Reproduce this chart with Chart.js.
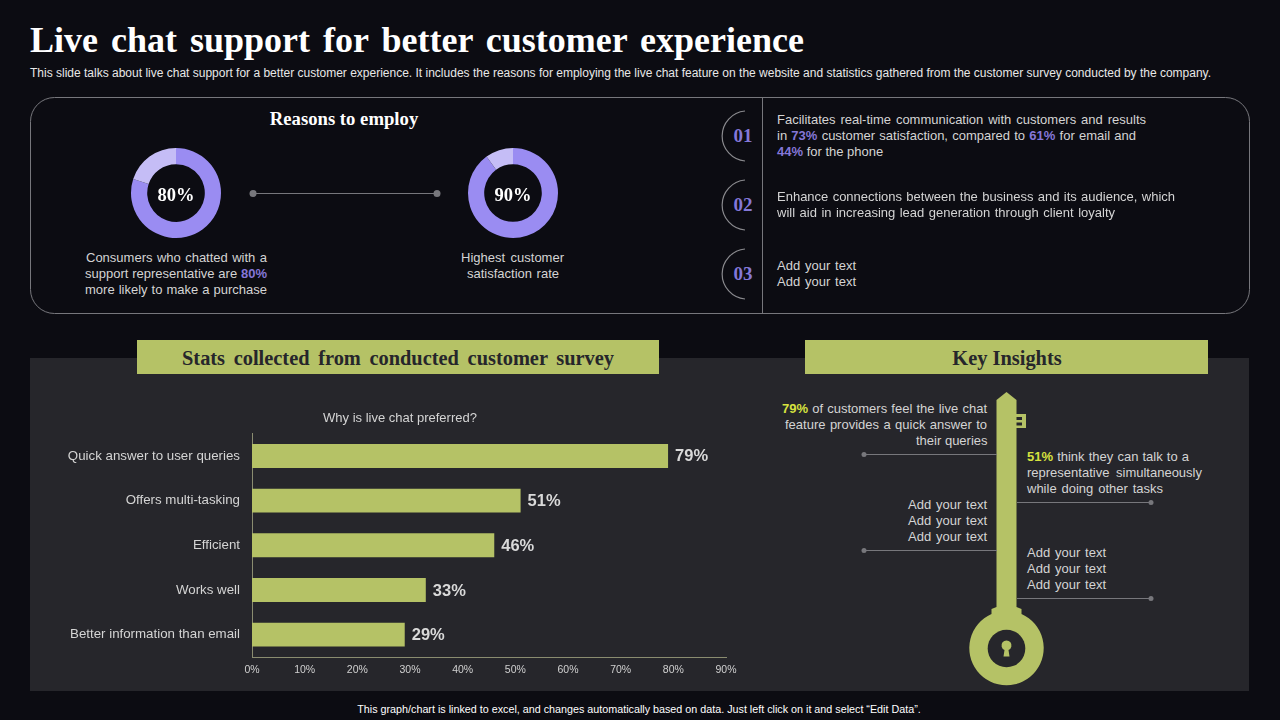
<!DOCTYPE html>
<html lang="en">
<head>
<meta charset="UTF-8">
<title>Live chat support for better customer experience</title>
<script src="https://cdn.jsdelivr.net/npm/chart.js"></script>
<style>
  html, body { margin: 0; padding: 0; background: #0c0c12; }
  #slide { position: relative; width: 1280px; height: 720px; overflow: hidden; background: #0c0c12; font-family: "Liberation Sans", sans-serif; }
  #slide > * { position: absolute; }
  .t { height: 16px; margin-top: 1px; line-height: 16px; font-size: 13px; color: #d4d4d4; white-space: nowrap; text-align: justify; text-align-last: justify; }
  .c { text-align: center; text-align-last: center; }
  .s { font-family: "Liberation Serif", serif; font-weight: bold; white-space: nowrap; text-align: center; }
  .p { color: #8577d8; font-weight: bold; }
  .y { color: #d6e23f; font-weight: bold; }
  .band { background: #b5c266; color: #26262b; top: 340px; height: 34px; line-height: 36px; font-size: 20.4px; }
  .num { color: #8478d8; font-size: 19px; line-height: 20px; width: 40px; left: 723px; }
  .pct { color: #fff; font-size: 18.5px; line-height: 24px; width: 60px; top: 183px; }
</style>
</head>
<body>
<div id="slide">
  <div class="s" style="left:30px;top:18px;width:774px;height:44px;line-height:44px;font-size:36px;color:#fff;text-align:justify;text-align-last:justify;">Live chat support for better customer experience</div>
  <div class="t" style="left:30px;top:64px;width:1181px;font-size:12px;color:#e8e8e8;">This slide talks about live chat support for a better customer experience. It includes the reasons for employing the live chat feature on the website and statistics gathered from the customer survey conducted by the company.</div>

  <div style="left:30px;top:358px;width:1219px;height:333px;background:#26262b;"></div>

  <svg width="1280" height="720" style="left:0;top:0;">
    <rect x="30.5" y="97.5" width="1219" height="216" rx="24" fill="none" stroke="#77777c"/>
    <line x1="762.5" y1="98" x2="762.5" y2="313" stroke="#77777c"/>
    <line x1="253" y1="193.5" x2="437" y2="193.5" stroke="#77777c"/>
    <circle cx="253" cy="193.5" r="3.5" fill="#77777c"/>
    <circle cx="437" cy="193.5" r="3.5" fill="#77777c"/>
    <g fill="none" stroke="#8a8a8e" stroke-width="1.2">
      <path d="M745 111 A25.1 25.1 0 0 0 745 161"/>
      <path d="M745 180 A25.1 25.1 0 0 0 745 230"/>
      <path d="M745 249 A25.1 25.1 0 0 0 745 299"/>
    </g>
    <!-- key -->
    <path fill="#b5c266" d="M1006.5 392 L1016.5 400 L1016.5 607 L1021.5 609 L1021.5 614 A37.2 37.2 0 1 1 991.5 614 L991.5 609 L996.5 607 L996.5 400 Z"/>
    <path fill="#b5c266" d="M1016 414 H1026 V428 H1016 Z"/>
    <rect x="1016.5" y="417" width="5.5" height="3" fill="#26262b"/>
    <rect x="1016.5" y="422.5" width="5.5" height="3" fill="#26262b"/>
    <circle cx="1006.5" cy="648.5" r="18.8" fill="#26262b"/>
    <path fill="#b5c266" d="M1004.5 650 A5 5 0 1 1 1008.5 650 L1009.5 656.5 L1003.5 656.5 Z"/>
    <g stroke="#77777c">
      <line x1="864" y1="454.5" x2="997" y2="454.5"/>
      <line x1="864" y1="550.5" x2="997" y2="550.5"/>
      <line x1="1017" y1="502.5" x2="1151" y2="502.5"/>
      <line x1="1017" y1="598.5" x2="1151" y2="598.5"/>
    </g>
    <g fill="#77777c">
      <circle cx="864" cy="454.5" r="2.5"/>
      <circle cx="864" cy="550.5" r="2.5"/>
      <circle cx="1151" cy="502.5" r="2.5"/>
      <circle cx="1151" cy="598.5" r="2.5"/>
    </g>
  </svg>

  <div class="s" style="left:244px;top:108px;width:200px;line-height:22px;font-size:18.7px;color:#fff;">Reasons to employ</div>

  <canvas id="ringA" style="left:126px;top:143px;"></canvas>
  <canvas id="ringB" style="left:463px;top:143px;"></canvas>
  <div class="s pct" style="left:146px;">80%</div>
  <div class="s pct" style="left:483px;">90%</div>

  <div class="t" style="left:86px;top:249px;width:181px;">Consumers who chatted with a</div>
  <div class="t" style="left:85px;top:265px;width:182px;">support representative are <span class="p">80%</span></div>
  <div class="t" style="left:85px;top:281px;width:182px;">more likely to make a purchase</div>
  <div class="t" style="left:461px;top:249px;width:103px;">Highest customer</div>
  <div class="t" style="left:467px;top:265px;width:92px;">satisfaction rate</div>

  <div class="s num" style="top:126px;">01</div>
  <div class="s num" style="top:195px;">02</div>
  <div class="s num" style="top:264px;">03</div>

  <div class="t" style="left:777px;top:111px;width:369px;">Facilitates real-time communication with customers and results</div>
  <div class="t" style="left:777px;top:127px;width:359px;">in <span class="p">73%</span> customer satisfaction, compared to <span class="p">61%</span> for email and</div>
  <div class="t" style="left:777px;top:143px;width:106px;"><span class="p">44%</span> for the phone</div>
  <div class="t" style="left:777px;top:188px;width:398px;">Enhance connections between the business and its audience, which</div>
  <div class="t" style="left:777px;top:204px;width:338px;">will aid in increasing lead generation through client loyalty</div>
  <div class="t" style="left:777px;top:257px;width:79px;">Add your text</div>
  <div class="t" style="left:777px;top:273px;width:79px;">Add your text</div>

  <div class="s band" style="left:137px;width:432px;padding:0 45px;text-align:justify;text-align-last:justify;">Stats collected from conducted customer survey</div>
  <div class="s band" style="left:805px;width:402px;padding-left:1px;">Key Insights</div>

  <canvas id="surveyChart" style="left:40px;top:405px;"></canvas>

  <div class="t" style="left:782px;top:400px;width:205px;"><span class="y">79%</span> of customers feel the live chat</div>
  <div class="t" style="left:785px;top:416px;width:202px;">feature provides a quick answer to</div>
  <div class="t" style="left:916px;top:432px;width:71px;">their queries</div>
  <div class="t" style="left:908px;top:496px;width:79px;">Add your text</div>
  <div class="t" style="left:908px;top:512px;width:79px;">Add your text</div>
  <div class="t" style="left:908px;top:528px;width:79px;">Add your text</div>
  <div class="t" style="left:1027px;top:448px;width:162px;"><span class="y">51%</span> think they can talk to a</div>
  <div class="t" style="left:1027px;top:464px;width:175px;">representative simultaneously</div>
  <div class="t" style="left:1027px;top:480px;width:136px;">while doing other tasks</div>
  <div class="t" style="left:1027px;top:544px;width:79px;">Add your text</div>
  <div class="t" style="left:1027px;top:560px;width:79px;">Add your text</div>
  <div class="t" style="left:1027px;top:576px;width:79px;">Add your text</div>

  <div class="t c" style="left:300px;top:700px;width:678px;font-size:10.76px;color:#fff;">This graph/chart is linked to excel, and changes automatically based on data. Just left click on it and select “Edit Data”.</div>
</div>

<script>
  const surveyLabels = ['Quick answer to user queries', 'Offers multi-tasking', 'Efficient', 'Works well', 'Better information than email'];
  const surveyValues = [79, 51, 46, 33, 29];
  const axisTicks = [0, 10, 20, 30, 40, 50, 60, 70, 80, 90];
  const ringA = [80, 20];
  const ringB = [90, 10];

  const purple = '#9a8cf2';
  const lilac = '#c5bdf6';
  const green = '#b5c266';

  Chart.defaults.animation = false;
  Chart.defaults.font.family = '"Liberation Sans", sans-serif';

  function sizeCanvas(id, w, h) {
    const el = document.getElementById(id);
    el.width = w;
    el.height = h;
    el.style.width = w + 'px';
    el.style.height = h + 'px';
    return el;
  }

  function drawRing(id, values) {
    new Chart(sizeCanvas(id, 100, 100), {
      type: 'doughnut',
      data: {
        labels: ['Share', 'Rest'],
        datasets: [{ data: values, backgroundColor: [purple, lilac], borderWidth: 0 }]
      },
      options: {
        responsive: false,
        cutout: '64%',
        layout: { padding: 5 },
        plugins: { legend: { display: false }, tooltip: { enabled: false } }
      }
    });
  }

  drawRing('ringA', ringA);
  drawRing('ringB', ringB);

  // подписи значений справа от столбцов
  const barValueLabels = {
    id: 'barValueLabels',
    afterDatasetsDraw(chart) {
      const { ctx } = chart;
      ctx.save();
      ctx.font = 'bold 16.5px "Liberation Sans", sans-serif';
      ctx.fillStyle = '#d9d9d9';
      ctx.textBaseline = 'middle';
      chart.getDatasetMeta(0).data.forEach((bar, i) => {
        ctx.fillText(surveyValues[i] + '%', bar.x + 7, bar.y + 1);
      });
      ctx.restore();
    }
  };

  // длинные подписи шире оси: иначе Chart.js обрезает их по левому краю шкалы
  const wideTickLabels = {
    id: 'wideTickLabels',
    afterLayout(chart) { chart.scales.y.left = 0; }
  };

  new Chart(sizeCanvas('surveyChart', 720, 285), {
    type: 'bar',
    data: {
      labels: surveyLabels,
      datasets: [{
        data: surveyValues,
        backgroundColor: green,
        categoryPercentage: 1,
        barPercentage: 0.535
      }]
    },
    options: {
      indexAxis: 'y',
      responsive: false,
      layout: { padding: { left: 34, right: 34 } },
      plugins: {
        legend: { display: false },
        tooltip: { enabled: false },
        title: {
          display: true,
          text: 'Why is live chat preferred?',
          color: '#d4d4d4',
          font: { size: 13, weight: 'normal' },
          padding: { top: 6, bottom: 7 }
        }
      },
      scales: {
        x: {
          min: 0,
          max: 90,
          afterBuildTicks(scale) { scale.ticks = axisTicks.map(value => ({ value })); },
          afterFit(scale) { scale.height = 33; },
          grid: { display: false, tickLength: 7 },
          border: { color: '#8a8c70' },
          ticks: { color: '#d0d0d0', font: { size: 10.5 }, padding: 0, maxRotation: 0, callback: v => v + '%' }
        },
        y: {
          afterFit(scale) { scale.width = 178; },
          grid: { display: false },
          border: { color: '#8a8c70' },
          ticks: { color: '#d4d4d4', font: { size: 13.3 }, padding: 4 }
        }
      }
    },
    plugins: [barValueLabels, wideTickLabels]
  });
</script>
</body>
</html>
